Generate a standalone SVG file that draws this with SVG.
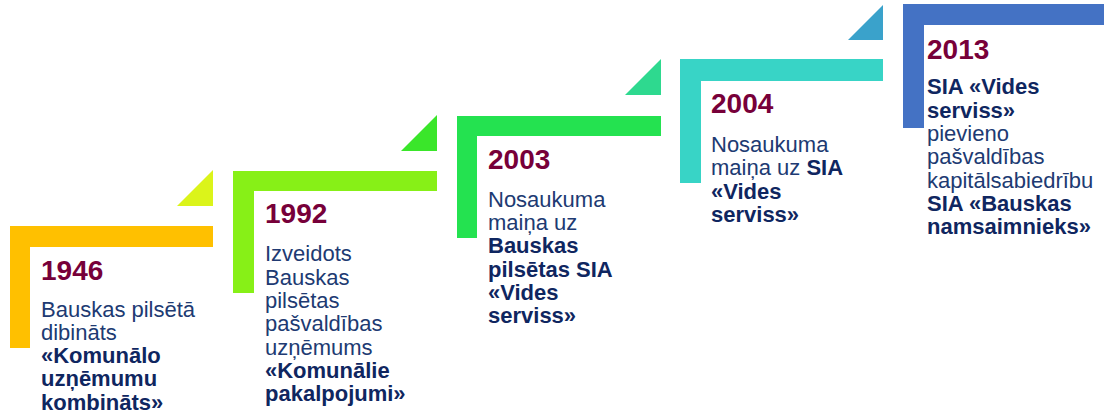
<svg xmlns="http://www.w3.org/2000/svg" width="1104" height="417" viewBox="0 0 1104 417">
<style>
.yr{font-family:"Liberation Sans",Arial,sans-serif;font-weight:bold;font-size:28px;fill:#770039}
.tx{font-family:"Liberation Sans",Arial,sans-serif;font-size:22px;fill:#203a72}
.b{font-weight:bold;fill:#0f2660}
</style>
<rect width="1104" height="417" fill="#ffffff"/>
<g id="connectors"></g>
<g id="n1946">
<path d="M10 226H213V247H30V348H10Z" fill="#ffc000"/>
<polygon points="213,170 213,206 177,206" fill="#dbf41a"/>
<text class="yr" x="41" y="280">1946</text>
<text class="tx" x="41" y="316.7">Bauskas pilsētā</text>
<text class="tx" x="41" y="339.9">dibināts</text>
<text class="tx b" x="41" y="363.1">«Komunālo</text>
<text class="tx b" x="41" y="386.3">uzņēmumu</text>
<text class="tx b" x="41" y="409.5">kombināts»</text>
</g>
<g id="n1992">
<path d="M233 171H437V191H254V293H233Z" fill="#87f017"/>
<polygon points="437,115 437,151 401,151" fill="#3ae62a"/>
<text class="yr" x="265" y="223.3">1992</text>
<text class="tx" x="265" y="261.3">Izveidots</text>
<text class="tx" x="265" y="284.6">Bauskas</text>
<text class="tx" x="265" y="307.9">pilsētas</text>
<text class="tx" x="265" y="331.2">pašvaldības</text>
<text class="tx" x="265" y="354.5">uzņēmums</text>
<text class="tx b" x="265" y="377.8">«Komunālie</text>
<text class="tx b" x="265" y="401.1">pakalpojumi»</text>
</g>
<g id="n2003">
<path d="M457 116H661V136H477V238H457Z" fill="#24e250"/>
<polygon points="661,59 661,95 625,95" fill="#2ed98f"/>
<text class="yr" x="488" y="169.3">2003</text>
<text class="tx" x="488" y="206.7">Nosaukuma</text>
<text class="tx" x="488" y="230">maiņa uz</text>
<text class="tx b" x="488" y="253.3">Bauskas</text>
<text class="tx b" x="488" y="276.6">pilsētas SIA</text>
<text class="tx b" x="488" y="299.9">«Vides</text>
<text class="tx b" x="488" y="323.2">serviss»</text>
</g>
<g id="n2004">
<path d="M680 59H883V81H701V183H680Z" fill="#38d4c6"/>
<polygon points="883,5 883,40 848,40" fill="#3aa2cb"/>
<text class="yr" x="711" y="112.7">2004</text>
<text class="tx" x="711" y="151.7">Nosaukuma</text>
<text class="tx" x="711" y="175.2">maiņa uz <tspan class="b">SIA</tspan></text>
<text class="tx b" x="711" y="198.5">«Vides</text>
<text class="tx b" x="711" y="221.8">serviss»</text>
</g>
<g id="n2013">
<path d="M903 4H1104V25H924V128H903Z" fill="#4472c4"/>
<text class="yr" x="927" y="59.3">2013</text>
<text class="tx b" x="927" y="94.3">SIA «Vides</text>
<text class="tx b" x="927" y="117.6">serviss»</text>
<text class="tx" x="927" y="140.9">pievieno</text>
<text class="tx" x="927" y="164.2">pašvaldības</text>
<text class="tx" x="927" y="187.5">kapitālsabiedrību</text>
<text class="tx b" x="927" y="210.8">SIA «Bauskas</text>
<text class="tx b" x="927" y="234.1">namsaimnieks»</text>
</g>
</svg>
